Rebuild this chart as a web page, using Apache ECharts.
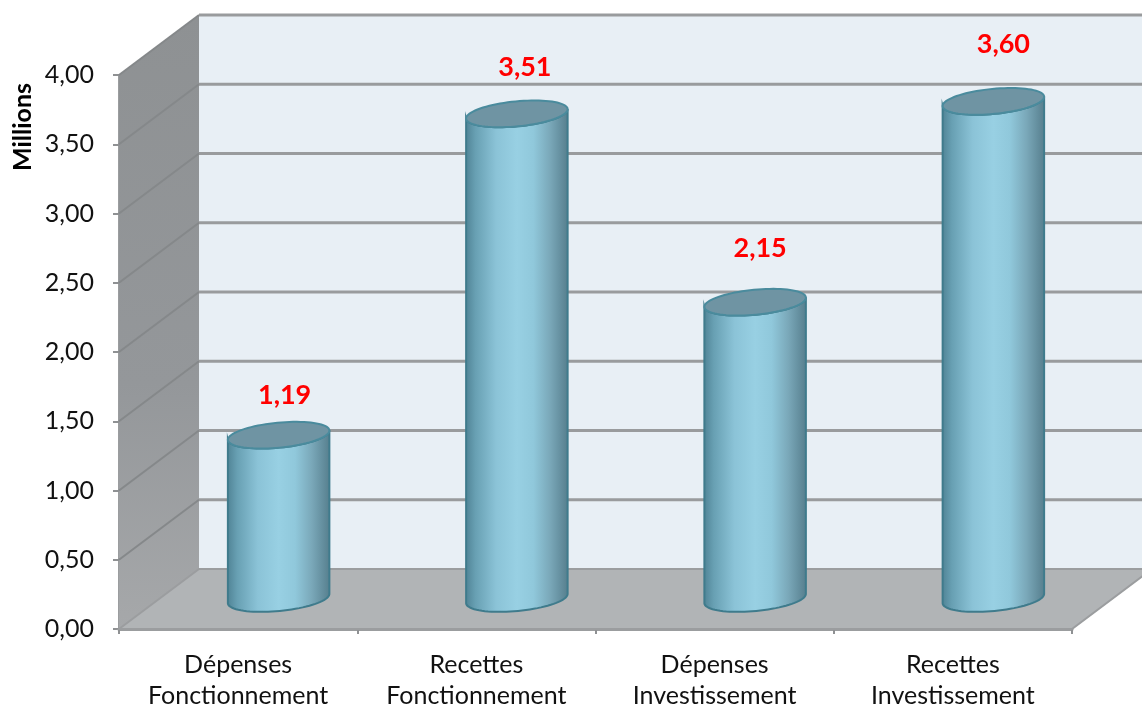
<!DOCTYPE html>
<html><head><meta charset="utf-8">
<style>html,body{margin:0;padding:0;background:#fff}#c{width:1142px;height:706px}</style>
<script src="https://cdn.jsdelivr.net/npm/echarts@6/dist/echarts.min.js"></script>
</head><body><div id="c"></div>
<script>
const categories = ['Dépenses\nFonctionnement','Recettes\nFonctionnement','Dépenses\nInvestissement','Recettes\nInvestissement'];
const values = [1.19, 3.51, 2.15, 3.60];
const gridValues = [0,0.5,1,1.5,2,2.5,3,3.5,4];
const axisName = 'Millions';
const labelNudge = [[6,-40],[8,-47],[5,-54],[10,-57]];

const DX = 80, DY = -60, FONT = 'Lato, Carlito, sans-serif';
const fmt = v => v.toFixed(2).replace('.', ',');
const sideGrad = {type:'linear',x:0,y:0,x2:1,y2:0,colorStops:[
  {offset:0,color:'#4f8294'},{offset:.1,color:'#68a0b3'},{offset:.3,color:'#8bc3d7'},
  {offset:.5,color:'#98d0e3'},{offset:.66,color:'#90c8db'},{offset:.82,color:'#7aa8b9'},{offset:1,color:'#557d8c'}]};

function ellipsePts(cx,cy,a,b,from,to,n){
  const phi=-5.5*Math.PI/180, pts=[];
  for(let i=0;i<=n;i++){
    const t=from+(to-from)*i/n;
    pts.push([cx+a*Math.cos(t)*Math.cos(phi)-b*Math.sin(t)*Math.sin(phi),
              cy+a*Math.cos(t)*Math.sin(phi)+b*Math.sin(t)*Math.cos(phi)]);
  }
  return pts;
}

function renderShell(params, api){
  const r=params.coordSys, L=r.x, R=r.x+r.width, T=r.y, B=r.y+r.height;
  const line='#9b9d9f';
  return {type:'group',silent:true,children:[
    {type:'rect',shape:{x:L+DX,y:T+DY,width:r.width,height:r.height},style:{fill:'#e8eff5'}},
    {type:'polygon',shape:{points:[[L,T],[L+DX,T+DY],[L+DX,B+DY],[L,B]]},
      style:{fill:{type:'linear',x:0,y:0,x2:0,y2:1,colorStops:[{offset:0,color:'#8e9193'},{offset:.6,color:'#94979a'},{offset:1,color:'#a6a8aa'}]}}},
    {type:'polygon',shape:{points:[[L,B],[L+DX,B+DY],[R+DX,B+DY],[R,B]]},
      style:{fill:'#b1b4b6',stroke:line,lineWidth:2}}
  ]};
}
function renderGrid(params, api){
  const r=params.coordSys, y=api.coord([0,api.value(0)])[1], L=r.x, R=r.x+r.width;
  return {type:'group',silent:true,children:[
    {type:'line',shape:{x1:L,y1:y,x2:L+DX,y2:y+DY},style:{stroke:'#85888a',lineWidth:2}},
    {type:'line',shape:{x1:L+DX,y1:y+DY,x2:R+DX,y2:y+DY},style:{stroke:'#999b9d',lineWidth:3}}
  ]};
}
function renderBar(params, api){
  const c=api.coord([api.value(0),0]), v=api.coord([api.value(0),api.value(1)]);
  const a=api.size([1,0])[0]*0.214, b=12.5;
  const cx=c[0]+DX/2+0.5, by=c[1]+DY/2-0.5, ty=v[1]+DY/2+1;
  const lower=ellipsePts(cx,by,a,b,0,Math.PI,40);
  const upper=ellipsePts(cx,ty,a,b,Math.PI,0,40);
  const n=labelNudge[params.dataIndex];
  return {type:'group',children:[
    {type:'polygon',shape:{points:lower.concat(upper)},style:{fill:sideGrad,stroke:'#3f7b8c',lineWidth:2}},
    {type:'polygon',shape:{points:ellipsePts(cx,ty,a,b,0,Math.PI*2,80)},style:{fill:'#6f94a3',stroke:'#4a8b9d',lineWidth:2}},
    {type:'text',x:cx+n[0],y:ty+n[1],style:{text:fmt(api.value(1)),fill:'#ff0000',font:'bold 27px '+FONT,align:'center',verticalAlign:'middle'}}
  ]};
}

const chart=echarts.init(document.getElementById('c'),null,{renderer:'canvas'});
chart.setOption({
  animation:false,
  backgroundColor:'#ffffff',
  grid:{left:119,right:70,top:75,bottom:77,containLabel:false,outerBoundsMode:'none'},
  xAxis:{type:'category',data:categories,boundaryGap:true,
    axisLine:{show:true,onZero:false,lineStyle:{color:'#9b9d9f',width:3}},
    axisTick:{show:true,alignWithLabel:false,length:5,lineStyle:{color:'#8f9193',width:2}},
    axisLabel:{interval:0,margin:20,color:'#111',fontFamily:FONT,fontSize:25,lineHeight:31},
    splitLine:{show:false}},
  yAxis:{type:'value',min:0,max:4,interval:0.5,
    axisLine:{show:true,lineStyle:{color:'#9b9d9f',width:2}},
    axisTick:{show:true,length:6,lineStyle:{color:'#8f9193',width:2}},
    axisLabel:{margin:25,color:'#111',fontFamily:FONT,fontSize:25,formatter:fmt},
    splitLine:{show:false}},
  graphic:[{type:'text',x:23,y:127,rotation:Math.PI/2,z:10,
    style:{text:axisName,fill:'#000',font:'bold 25px '+FONT,align:'center',verticalAlign:'middle'}}],
  series:[
    {type:'custom',name:'shell',coordinateSystem:'cartesian2d',clip:false,z:1,renderItem:renderShell,data:[[0]],silent:true,encode:{x:[],y:[]}},
    {type:'custom',name:'grid',coordinateSystem:'cartesian2d',clip:false,z:2,renderItem:renderGrid,data:gridValues.slice(1).map(v=>[v]),silent:true,encode:{y:0}},
    {type:'custom',name:'Valeurs',coordinateSystem:'cartesian2d',clip:false,z:3,renderItem:renderBar,
      data:values.map((v,i)=>[i,v]),encode:{x:0,y:1}}
  ]
});
</script></body></html>
